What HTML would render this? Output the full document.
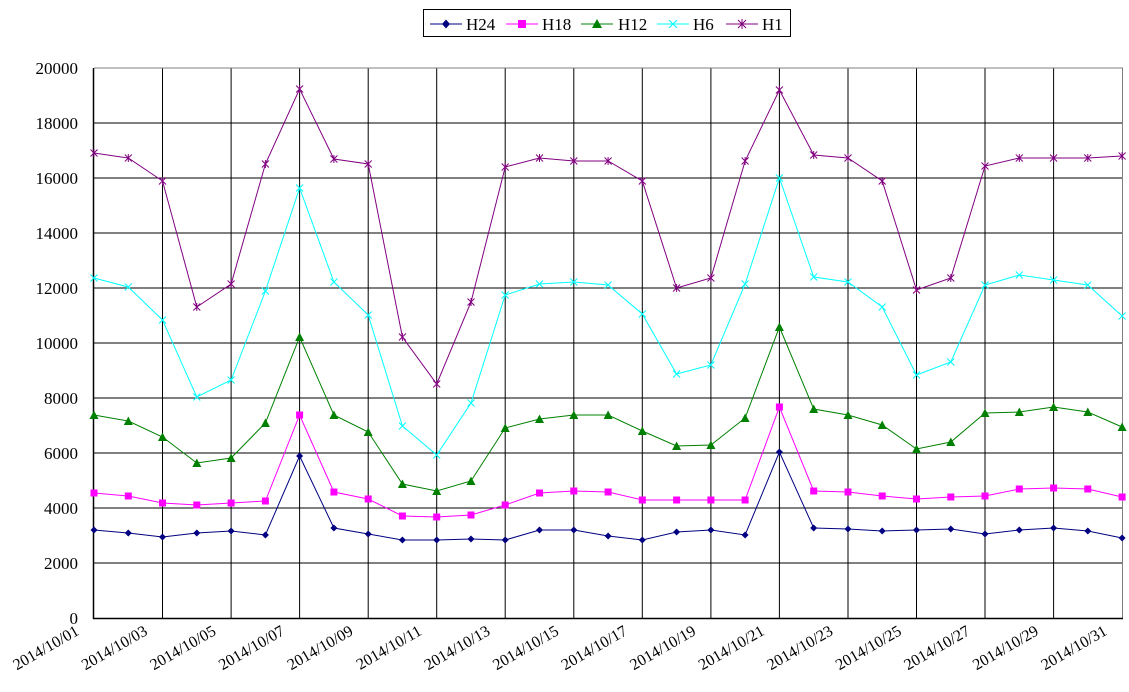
<!DOCTYPE html>
<html><head><meta charset="utf-8"><style>
html,body{margin:0;padding:0;background:#fff;}
svg{display:block;font-family:"Liberation Serif",serif;}
</style></head><body>
<svg width="1129" height="692" viewBox="0 0 1129 692" xmlns="http://www.w3.org/2000/svg">
<defs>
<marker id="dia" markerWidth="8" markerHeight="8" refX="4" refY="4" markerUnits="userSpaceOnUse"><path d="M4 0.5 L7.5 4 L4 7.5 L0.5 4Z" fill="#000080"/></marker>
<marker id="sq" markerWidth="8" markerHeight="8" refX="4" refY="4" markerUnits="userSpaceOnUse"><rect x="0.5" y="0.5" width="7" height="7" fill="#ff00ff"/></marker>
<marker id="tri" markerWidth="10" markerHeight="10" refX="5" refY="5" markerUnits="userSpaceOnUse"><path d="M5 0.5 L9.5 9 L0.5 9Z" fill="#008000"/></marker>
<marker id="x6" markerWidth="10" markerHeight="10" refX="5" refY="5" markerUnits="userSpaceOnUse"><path d="M1.5 1.5 L8.5 8.5 M8.5 1.5 L1.5 8.5" stroke="#00ffff" stroke-width="1"/></marker>
<marker id="st" markerWidth="10" markerHeight="10" refX="5" refY="5" markerUnits="userSpaceOnUse"><path d="M1.5 1.5 L8.5 8.5 M8.5 1.5 L1.5 8.5 M5 1 L5 9" stroke="#800080" stroke-width="1"/></marker>
</defs>
<g stroke="#000" stroke-width="1">
<line x1="94" y1="123" x2="1123" y2="123"/><line x1="94" y1="178" x2="1123" y2="178"/><line x1="94" y1="233" x2="1123" y2="233"/><line x1="94" y1="288" x2="1123" y2="288"/><line x1="94" y1="343" x2="1123" y2="343"/><line x1="94" y1="398" x2="1123" y2="398"/><line x1="94" y1="453" x2="1123" y2="453"/><line x1="94" y1="508" x2="1123" y2="508"/><line x1="94" y1="563" x2="1123" y2="563"/>
<line x1="162.5" y1="68" x2="162.5" y2="618"/><line x1="231.1" y1="68" x2="231.1" y2="618"/><line x1="299.6" y1="68" x2="299.6" y2="618"/><line x1="368.2" y1="68" x2="368.2" y2="618"/><line x1="436.7" y1="68" x2="436.7" y2="618"/><line x1="505.2" y1="68" x2="505.2" y2="618"/><line x1="573.8" y1="68" x2="573.8" y2="618"/><line x1="642.3" y1="68" x2="642.3" y2="618"/><line x1="710.9" y1="68" x2="710.9" y2="618"/><line x1="779.4" y1="68" x2="779.4" y2="618"/><line x1="848" y1="68" x2="848" y2="618"/><line x1="916.5" y1="68" x2="916.5" y2="618"/><line x1="985" y1="68" x2="985" y2="618"/><line x1="1053.6" y1="68" x2="1053.6" y2="618"/>
</g>
<line x1="94" y1="68" x2="1123" y2="68" stroke="#808080"/>
<line x1="1122.5" y1="68" x2="1122.5" y2="618" stroke="#808080"/>
<line x1="93.5" y1="68" x2="93.5" y2="619" stroke="#000" stroke-width="1.5"/>
<line x1="93" y1="618.5" x2="1123" y2="618.5" stroke="#000" stroke-width="1.5"/>
<g font-size="17" text-anchor="end" fill="#000">
<text x="78" y="74">20000</text><text x="78" y="129">18000</text><text x="78" y="184">16000</text><text x="78" y="239">14000</text><text x="78" y="294">12000</text><text x="78" y="349">10000</text><text x="78" y="404">8000</text><text x="78" y="459">6000</text><text x="78" y="514">4000</text><text x="78" y="569">2000</text><text x="78" y="624">0</text>
</g>
<g font-size="16" text-anchor="end" fill="#000">
<text transform="translate(80,634) rotate(-30)">2014/10/01</text>
<text transform="translate(148.5,634) rotate(-30)">2014/10/03</text>
<text transform="translate(217,634) rotate(-30)">2014/10/05</text>
<text transform="translate(285.6,634) rotate(-30)">2014/10/07</text>
<text transform="translate(354.2,634) rotate(-30)">2014/10/09</text>
<text transform="translate(422.7,634) rotate(-30)">2014/10/11</text>
<text transform="translate(491.2,634) rotate(-30)">2014/10/13</text>
<text transform="translate(559.8,634) rotate(-30)">2014/10/15</text>
<text transform="translate(628.3,634) rotate(-30)">2014/10/17</text>
<text transform="translate(696.9,634) rotate(-30)">2014/10/19</text>
<text transform="translate(765.4,634) rotate(-30)">2014/10/21</text>
<text transform="translate(834,634) rotate(-30)">2014/10/23</text>
<text transform="translate(902.5,634) rotate(-30)">2014/10/25</text>
<text transform="translate(971,634) rotate(-30)">2014/10/27</text>
<text transform="translate(1039.6,634) rotate(-30)">2014/10/29</text>
<text transform="translate(1108.1,634) rotate(-30)">2014/10/31</text>
</g>
<g fill="none" stroke-width="1">
<polyline stroke="#800080" marker-start="url(#st)" marker-mid="url(#st)" marker-end="url(#st)" points="94,153 128.3,158 162.5,181 196.8,307 231.1,284 265.4,164 299.6,89 333.9,159 368.2,164 402.4,337 436.7,384 471,302 505.2,167 539.5,158 573.8,161 608.1,161 642.3,181 676.6,288 710.9,278 745.1,161 779.4,90 813.7,155 848,158 882.2,181 916.5,290 950.8,278 985,166 1019.3,158 1053.6,158 1087.8,158 1122.1,156"/>
<polyline stroke="#00ffff" marker-start="url(#x6)" marker-mid="url(#x6)" marker-end="url(#x6)" points="94,278 128.3,287 162.5,320 196.8,397 231.1,380 265.4,291 299.6,188 333.9,282 368.2,315 402.4,426 436.7,455 471,403 505.2,295 539.5,284 573.8,282 608.1,285 642.3,314 676.6,374 710.9,365 745.1,284 779.4,178 813.7,277 848,282 882.2,307 916.5,375 950.8,362 985,285 1019.3,275 1053.6,280 1087.8,285 1122.1,316"/>
<polyline stroke="#008000" marker-start="url(#tri)" marker-mid="url(#tri)" marker-end="url(#tri)" points="94,415 128.3,421 162.5,437 196.8,463 231.1,458 265.4,423 299.6,337 333.9,415 368.2,432 402.4,484 436.7,491 471,481 505.2,428 539.5,419 573.8,415 608.1,415 642.3,431 676.6,446 710.9,445 745.1,418 779.4,327 813.7,409 848,415 882.2,425 916.5,449 950.8,442 985,413 1019.3,412 1053.6,407 1087.8,412 1122.1,427"/>
<polyline stroke="#ff00ff" marker-start="url(#sq)" marker-mid="url(#sq)" marker-end="url(#sq)" points="94,493 128.3,496 162.5,503 196.8,505 231.1,503 265.4,501 299.6,415 333.9,492 368.2,499 402.4,516 436.7,517 471,515 505.2,505 539.5,493 573.8,491 608.1,492 642.3,500 676.6,500 710.9,500 745.1,500 779.4,407 813.7,491 848,492 882.2,496 916.5,499 950.8,497 985,496 1019.3,489 1053.6,488 1087.8,489 1122.1,497"/>
<polyline stroke="#000080" marker-start="url(#dia)" marker-mid="url(#dia)" marker-end="url(#dia)" points="94,530 128.3,533 162.5,537 196.8,533 231.1,531 265.4,535 299.6,456 333.9,528 368.2,534 402.4,540 436.7,540 471,539 505.2,540 539.5,530 573.8,530 608.1,536 642.3,540 676.6,532 710.9,530 745.1,535 779.4,452 813.7,528 848,529 882.2,531 916.5,530 950.8,529 985,534 1019.3,530 1053.6,528 1087.8,531 1122.1,538"/>
</g>
<rect x="423.5" y="9.5" width="367" height="46" fill="none" stroke="#000" stroke-width="0"/>
<rect x="423.5" y="9.5" width="367" height="46" fill="none" stroke="none"/>
<rect x="423.5" y="9.5" width="367" height="27" fill="#fff" stroke="#000" stroke-width="1"/>
<g font-size="17" fill="#000">
<line x1="430" y1="24" x2="462" y2="24" stroke="#000080"/><path d="M446 19.5 L450 24 L446 28.5 L442 24Z" fill="#000080"/><text x="466" y="30">H24</text>
<line x1="506" y1="24" x2="538" y2="24" stroke="#ff00ff"/><rect x="518" y="20" width="8" height="8" fill="#ff00ff"/><text x="542" y="30">H18</text>
<line x1="581" y1="24" x2="613" y2="24" stroke="#008000"/><path d="M597 19 L602 28 L592 28Z" fill="#008000"/><text x="618" y="30">H12</text>
<line x1="657" y1="24" x2="689" y2="24" stroke="#00ffff"/><path d="M669 20 L677 28 M677 20 L669 28" stroke="#00ffff"/><text x="693" y="30">H6</text>
<line x1="726" y1="24" x2="758" y2="24" stroke="#800080"/><path d="M738 20 L746 28 M746 20 L738 28 M742 19 L742 29" stroke="#800080"/><text x="762" y="30">H1</text>
</g>
</svg>
</body></html>
